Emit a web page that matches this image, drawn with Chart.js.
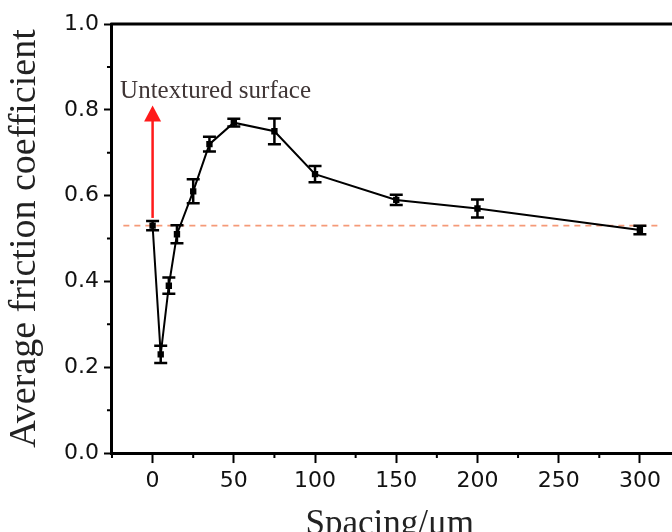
<!DOCTYPE html>
<html>
<head>
<meta charset="utf-8">
<script src="https://cdn.jsdelivr.net/npm/chart.js@4.4.1/dist/chart.umd.min.js"></script>
<style>
  html, body { margin: 0; padding: 0; background: #fff; }
  #wrap { width: 672px; height: 532px; }
</style>
</head>
<body>
<div id="wrap"><canvas id="frictionChart"></canvas></div>
<script>
// values
const spacing = [0, 5, 10, 15, 25, 35, 50, 75, 100, 150, 200, 300]
const friction = [0.53, 0.23, 0.39, 0.51, 0.61, 0.72, 0.77, 0.75, 0.65, 0.59, 0.57, 0.52]
const frictionErr = [0.011, 0.02, 0.019, 0.021, 0.028, 0.017, 0.009, 0.03, 0.019, 0.012, 0.021, 0.01]

const xMajorTicks = [0, 50, 100, 150, 200, 250, 300]
const xMinorTicks = [-25, 25, 75, 125, 175, 225, 275]
const yMajorTicks = [0, 0.2, 0.4, 0.6, 0.8, 1.0]
const yMinorTicks = [0.1, 0.3, 0.5, 0.7, 0.9]

// untextured reference level + annotation
const untexturedLevel = 0.53
const untexturedSpan = [-18, 311]
const arrowX = 0
const arrowRange = [0.548, 0.81]
const noteText = 'Untextured surface'
const notePos = [-20, 0.827]

const tickFont = { family: "'DejaVu Sans', sans-serif", size: 22 }
const titleFamily = "'Liberation Serif', 'Times New Roman', serif"

/**
 * frame lines, minor ticks, error bars, arrow and note
 */
const decorPlugin = {
  id: 'decor',
  afterDatasetsDraw(chart) {
    const { ctx, scales: { x, y } } = chart
    ctx.save()

    // error bars
    ctx.strokeStyle = '#000'
    ctx.lineWidth = 2.5
    spacing.forEach((s, i) => {
      const px = x.getPixelForValue(s)
      const top = y.getPixelForValue(friction[i] + frictionErr[i])
      const bot = y.getPixelForValue(friction[i] - frictionErr[i])
      ctx.beginPath()
      ctx.moveTo(px, top); ctx.lineTo(px, bot)
      ctx.moveTo(px - 6.5, top); ctx.lineTo(px + 6.5, top)
      ctx.moveTo(px - 6.5, bot); ctx.lineTo(px + 6.5, bot)
      ctx.stroke()
    })

    // red arrow
    const ax = x.getPixelForValue(arrowX)
    const a0 = y.getPixelForValue(arrowRange[0])
    const a1 = y.getPixelForValue(arrowRange[1])
    ctx.strokeStyle = '#ff1a1a'
    ctx.fillStyle = '#ff1a1a'
    ctx.lineWidth = 2.5
    ctx.beginPath()
    ctx.moveTo(ax, a0); ctx.lineTo(ax, a1 + 12)
    ctx.stroke()
    ctx.beginPath()
    ctx.moveTo(ax, a1)
    ctx.lineTo(ax - 8.5, a1 + 16)
    ctx.lineTo(ax + 8.5, a1 + 16)
    ctx.closePath()
    ctx.fill()

    // note text
    ctx.fillStyle = '#3f3535'
    ctx.font = `25px ${titleFamily}`
    ctx.textAlign = 'left'
    ctx.textBaseline = 'alphabetic'
    ctx.fillText(noteText, x.getPixelForValue(notePos[0]), y.getPixelForValue(notePos[1]))
    ctx.restore()
  },
  afterDraw(chart) {
    const { ctx, chartArea, scales: { x, y } } = chart
    ctx.save()
    ctx.strokeStyle = '#000'

    // top frame line and bottom axis run off the right edge (figure is cropped)
    ctx.lineWidth = 3
    ctx.beginPath()
    ctx.moveTo(chartArea.left - 1.5, chartArea.top)
    ctx.lineTo(chart.width, chartArea.top)
    ctx.moveTo(chartArea.right - 2, chartArea.bottom + 0.5)
    ctx.lineTo(chart.width, chartArea.bottom + 0.5)
    ctx.stroke()

    // minor ticks
    ctx.lineWidth = 2
    ctx.beginPath()
    xMinorTicks.forEach(v => {
      const px = x.getPixelForValue(v)
      ctx.moveTo(px, chartArea.bottom)
      ctx.lineTo(px, chartArea.bottom + 5)
    })
    yMinorTicks.forEach(v => {
      const py = y.getPixelForValue(v)
      ctx.moveTo(chartArea.left, py)
      ctx.lineTo(chartArea.left - 5, py)
    })
    ctx.stroke()
    ctx.restore()
  }
}

const ctx = document.getElementById('frictionChart').getContext('2d')

new Chart(ctx, {
  type: 'line',
  data: {
    datasets: [{
      label: 'Average friction coefficient',
      data: spacing.map((s, i) => ({ x: s, y: friction[i] })),
      borderColor: '#000',
      borderWidth: 2,
      pointStyle: 'rect',
      pointRadius: 4.5,
      pointBackgroundColor: '#000',
      pointBorderColor: '#000',
      pointBorderWidth: 0,
      tension: 0
    }, {
      label: 'Untextured surface',
      data: untexturedSpan.map(v => ({ x: v, y: untexturedLevel })),
      borderColor: '#f59a78',
      borderWidth: 1.8,
      borderDash: [6, 5],
      pointRadius: 0
    }]
  },
  options: {
    responsive: true,
    maintainAspectRatio: false,
    animation: false,
    layout: {
      padding: { top: 24, right: 0, bottom: 0, left: 0 }
    },
    plugins: {
      legend: { display: false },
      tooltip: { enabled: false }
    },
    scales: {
      x: {
        type: 'linear',
        min: -25,
        max: 317,
        afterBuildTicks: scale => {
          scale.ticks = xMajorTicks.map(v => ({ value: v }))
        },
        border: { color: '#000', width: 3 },
        grid: {
          drawOnChartArea: false,
          tickLength: 10,
          tickWidth: 2,
          tickColor: '#000'
        },
        ticks: {
          color: '#111',
          font: tickFont,
          padding: 5,
          maxRotation: 0,
          callback: v => String(v)
        },
        title: {
          display: true,
          text: 'Spacing/μm',
          color: '#222',
          font: { family: titleFamily, size: 35, lineHeight: 0.45 },
          padding: { top: 17.8, bottom: -1 }
        }
      },
      y: {
        min: 0,
        max: 1,
        afterBuildTicks: scale => {
          scale.ticks = yMajorTicks.map(v => ({ value: v }))
        },
        border: { color: '#000', width: 3 },
        grid: {
          drawOnChartArea: false,
          tickLength: 8,
          tickWidth: 2,
          tickColor: '#000'
        },
        ticks: {
          color: '#111',
          font: tickFont,
          padding: 5,
          callback: v => v.toFixed(1)
        },
        title: {
          display: true,
          text: 'Average friction coefficient',
          color: '#222',
          font: { family: titleFamily, size: 38, lineHeight: 1 },
          padding: { top: 6, bottom: 15 }
        }
      }
    }
  },
  plugins: [decorPlugin]
})
</script>
</body>
</html>
